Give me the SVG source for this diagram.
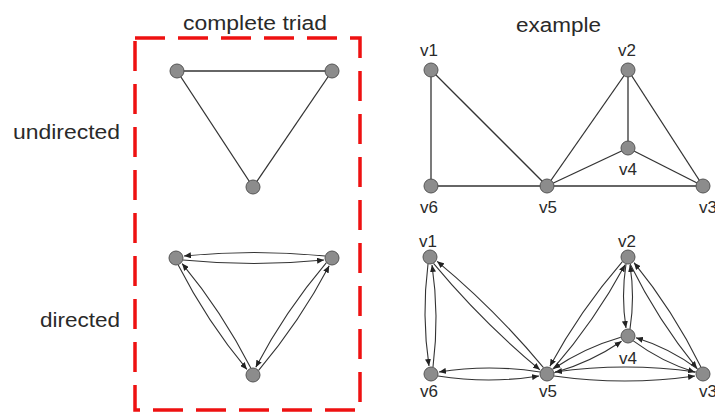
<svg xmlns="http://www.w3.org/2000/svg" width="715" height="412" viewBox="0 0 715 412">
<defs>
<marker id="arr" markerWidth="7" markerHeight="6" refX="7" refY="3" orient="auto" markerUnits="userSpaceOnUse">
<path d="M0,0 L7,3 L0,6 Z" fill="#222"/>
</marker>
<style>
.lbl{font-family:"Liberation Sans",Arial,sans-serif;font-size:20px;fill:#2a2a2a}
.vl{font-family:"Liberation Sans",Arial,sans-serif;font-size:17px;fill:#2a2a2a;text-anchor:middle}
.nd{fill:#8c8c8c;stroke:#555;stroke-width:1}
.ue{stroke:#333;stroke-width:1.3;fill:none}
.de{stroke:#333;stroke-width:1.1;fill:none;marker-end:url(#arr)}
.box{fill:none;stroke:#ee1111;stroke-width:3.5;stroke-dasharray:30 13}
</style>
</defs>
<rect width="715" height="412" fill="#fff"/>
<g id="titles">
<text class="lbl" x="183" y="30" textLength="144" lengthAdjust="spacingAndGlyphs">complete triad</text>
<text class="lbl" x="516" y="32" textLength="85" lengthAdjust="spacingAndGlyphs">example</text>
<text class="lbl" x="13" y="139" textLength="107" lengthAdjust="spacingAndGlyphs">undirected</text>
<text class="lbl" x="40" y="327" textLength="80" lengthAdjust="spacingAndGlyphs">directed</text>
</g>
<rect id="triad-box" class="box" x="135" y="38" width="225" height="372"/>
<g id="connectors">
<line class="ue" x1="177" y1="71" x2="332" y2="71" stroke-width="1.6"/>
<line class="ue" x1="177" y1="71" x2="253" y2="187"/>
<line class="ue" x1="332" y1="71" x2="253" y2="187"/>
<path class="de" d="M183,260 Q254,267 324,260"/>
<path class="de" d="M325,256 Q254,249 184,256"/>
<path class="de" d="M178.2,265 Q207,321.4 246.9,369.4"/>
<path class="de" d="M250.8,368.1 Q222,311.6 182.1,263.6"/>
<path class="de" d="M326.4,262.7 Q285,311.5 255.8,367.3"/>
<path class="de" d="M258.6,370.3 Q300,321.5 329.2,265.8"/>
<line class="ue" x1="431" y1="70" x2="431" y2="186"/>
<line class="ue" x1="431" y1="70" x2="547" y2="186"/>
<line class="ue" x1="431" y1="186" x2="703" y2="186"/>
<line class="ue" x1="547" y1="186" x2="628" y2="70"/>
<line class="ue" x1="547" y1="186" x2="628" y2="148"/>
<line class="ue" x1="628" y1="70" x2="628" y2="148"/>
<line class="ue" x1="628" y1="70" x2="703" y2="186"/>
<line class="ue" x1="628" y1="148" x2="703" y2="186"/>
<path class="de" d="M428,264 Q421.5,315.5 429,366"/>
<path class="de" d="M433,367 Q439.5,315.5 432,265"/>
<path class="de" d="M433.5,263.4 Q482.1,321.9 539.9,369.8"/>
<path class="de" d="M543.5,367.6 Q494.9,309.1 437.1,261.3"/>
<path class="de" d="M438,376 Q489,384 539,376"/>
<path class="de" d="M540,372 Q489,364 439,372"/>
<path class="de" d="M552.6,369.4 Q594.9,320.6 625.1,264.7"/>
<path class="de" d="M622.4,261.6 Q580.1,310.4 549.9,366.3"/>
<path class="de" d="M554.2,372.8 Q590.9,362.2 621.6,341.2"/>
<path class="de" d="M620.8,337.2 Q584.1,347.8 553.4,368.8"/>
<path class="de" d="M554,376 Q625,386 695,376"/>
<path class="de" d="M696,372 Q625,362 555,372"/>
<path class="de" d="M626,264 Q621,296.5 626,328"/>
<path class="de" d="M630,329 Q635,296.5 630,265"/>
<path class="de" d="M630.1,264 Q657.9,320.4 697,368.3"/>
<path class="de" d="M700.9,367 Q673.1,310.6 634,262.7"/>
<path class="de" d="M633.3,340.9 Q661.9,362.1 695,372.2"/>
<path class="de" d="M697.7,369.1 Q669.1,347.9 636,337.8"/>
</g>
<g id="triad-u-a"><circle class="nd" cx="177" cy="71" r="7"/></g>
<g id="triad-u-b"><circle class="nd" cx="332" cy="71" r="7"/></g>
<g id="triad-u-c"><circle class="nd" cx="253" cy="187" r="7"/></g>
<g id="triad-d-a"><circle class="nd" cx="176" cy="258" r="7"/></g>
<g id="triad-d-b"><circle class="nd" cx="332" cy="258" r="7"/></g>
<g id="triad-d-c"><circle class="nd" cx="253" cy="375" r="7"/></g>
<g id="u-v1"><circle class="nd" cx="431" cy="70" r="7"/><text class="vl" x="429" y="56">v1</text></g>
<g id="u-v2"><circle class="nd" cx="628" cy="70" r="7"/><text class="vl" x="627" y="56">v2</text></g>
<g id="u-v4"><circle class="nd" cx="628" cy="148" r="7"/><text class="vl" x="628" y="175">v4</text></g>
<g id="u-v6"><circle class="nd" cx="431" cy="186" r="7"/><text class="vl" x="429" y="213">v6</text></g>
<g id="u-v5"><circle class="nd" cx="547" cy="186" r="7"/><text class="vl" x="548" y="213">v5</text></g>
<g id="u-v3"><circle class="nd" cx="703" cy="186" r="7"/><text class="vl" x="708" y="213">v3</text></g>
<g id="d-v1"><circle class="nd" cx="430" cy="257" r="7"/><text class="vl" x="428" y="247">v1</text></g>
<g id="d-v2"><circle class="nd" cx="628" cy="257" r="7"/><text class="vl" x="627" y="247">v2</text></g>
<g id="d-v4"><circle class="nd" cx="628" cy="336" r="7"/><text class="vl" x="628" y="364">v4</text></g>
<g id="d-v6"><circle class="nd" cx="431" cy="374" r="7"/><text class="vl" x="429" y="397">v6</text></g>
<g id="d-v5"><circle class="nd" cx="547" cy="374" r="7"/><text class="vl" x="548" y="397">v5</text></g>
<g id="d-v3"><circle class="nd" cx="703" cy="374" r="7"/><text class="vl" x="708" y="397">v3</text></g>
</svg>
